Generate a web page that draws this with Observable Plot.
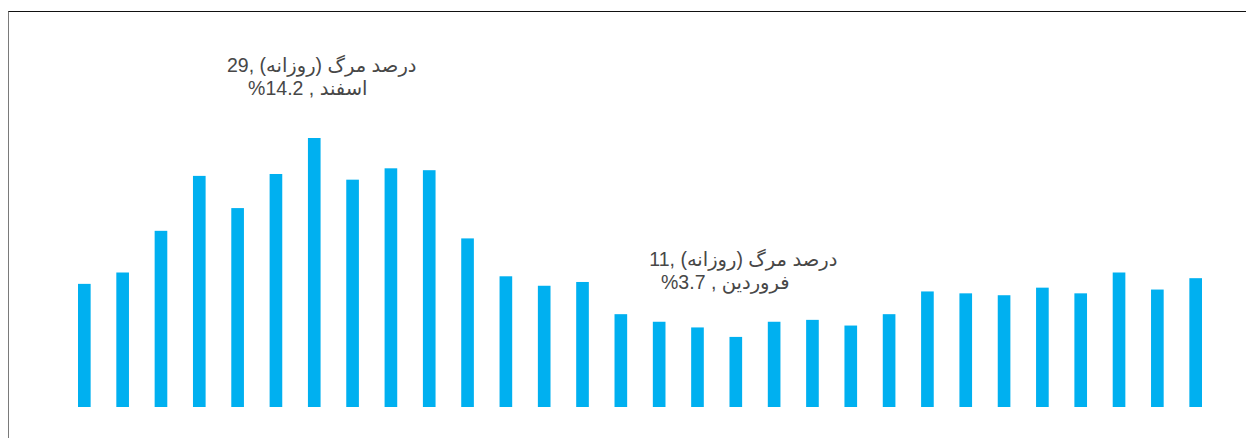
<!DOCTYPE html>
<html>
<head>
<meta charset="utf-8">
<script src="https://cdn.jsdelivr.net/npm/d3@7"></script>
<script src="https://cdn.jsdelivr.net/npm/@observablehq/plot@0.6"></script>
<style>
  html, body { margin: 0; padding: 0; background: #ffffff; }
  #wrap { position: relative; width: 1246px; height: 438px; overflow: hidden; }
  #frame { position: absolute; left: 8px; top: 11px; right: -4px; bottom: -4px;
           border-top: 1px solid #111; border-left: 1.5px solid #7a7a7a; pointer-events: none; }
</style>
</head>
<body>
<div id="wrap"><div id="chart"></div><div id="frame"></div></div>
<script>
// Days: 23 Esfand 1398 to 23 Farvardin 1399
const days = [
  "23 اسفند", "24 اسفند", "25 اسفند", "26 اسفند", "27 اسفند", "28 اسفند", "29 اسفند",
  "1 فروردین", "2 فروردین", "3 فروردین", "4 فروردین", "5 فروردین", "6 فروردین",
  "7 فروردین", "8 فروردین", "9 فروردین", "10 فروردین", "11 فروردین", "12 فروردین",
  "13 فروردین", "14 فروردین", "15 فروردین", "16 فروردین", "17 فروردین", "18 فروردین",
  "19 فروردین", "20 فروردین", "21 فروردین", "22 فروردین", "23 فروردین"
];
// Daily death rate (%)
const deathRate = [
  6.5, 7.1, 9.3, 12.2, 10.5, 12.3, 14.2,
  12.0, 12.6, 12.5, 8.9, 6.9, 6.4,
  6.6, 4.9, 4.5, 4.2, 3.7, 4.5,
  4.6, 4.3, 4.9, 6.1, 6.0, 5.9,
  6.3, 6.0, 7.1, 6.2, 6.8
];
// Data-label annotations
const noteDays = ["29 اسفند", "11 فروردین"];
const noteLine1 = ["درصد مرگ (روزانه) ,29", "درصد مرگ (روزانه) ,11"];
const noteLine2 = ["اسفند , 14.2%", "فروردین , 3.7%"];

const data = days.map((d, i) => ({day: d, rate: deathRate[i]}));
const notes = noteDays.map((d, i) => ({
  day: d,
  rate: deathRate[days.indexOf(d)],
  line1: noteLine1[i],
  line2: noteLine2[i]
}));

const textStyle = {
  fill: "#474747",
  fontSize: 19.5,
  fontFamily: "'Liberation Sans', Arial, 'DejaVu Sans', sans-serif",
  textAnchor: "middle",
  lineAnchor: "bottom"
};

function noteMarks(i, dx1, dy1, dx2, dy2) {
  const sel = [notes[i]];
  return [
    Plot.text(sel, {x: "day", y: "rate", text: "line1", dx: dx1, dy: dy1, ...textStyle}),
    Plot.text(sel, {x: "day", y: "rate", text: "line2", dx: dx2, dy: dy2, ...textStyle})
  ];
}

const chart = Plot.plot({
  width: 1246,
  height: 438,
  marginLeft: 78,
  marginRight: 44,
  marginTop: 138,
  marginBottom: 31,
  style: {background: "transparent", overflow: "visible"},
  x: {domain: days, paddingInner: 0.67, paddingOuter: 0, round: false, axis: null},
  y: {domain: [0, 14.2], axis: null},
  marks: [
    Plot.barY(data, {x: "day", y: "rate", fill: "#00b0f0"}),
    ...noteMarks(0, 7, -67, -7, -44),
    ...noteMarks(1, 7, -71, -11, -48)
  ]
});

chart.querySelectorAll('g[aria-label="text"] text').forEach(t => {
  t.setAttribute("direction", "rtl");
  t.style.unicodeBidi = "embed";
});

document.getElementById("chart").appendChild(chart);
</script>
</body>
</html>
